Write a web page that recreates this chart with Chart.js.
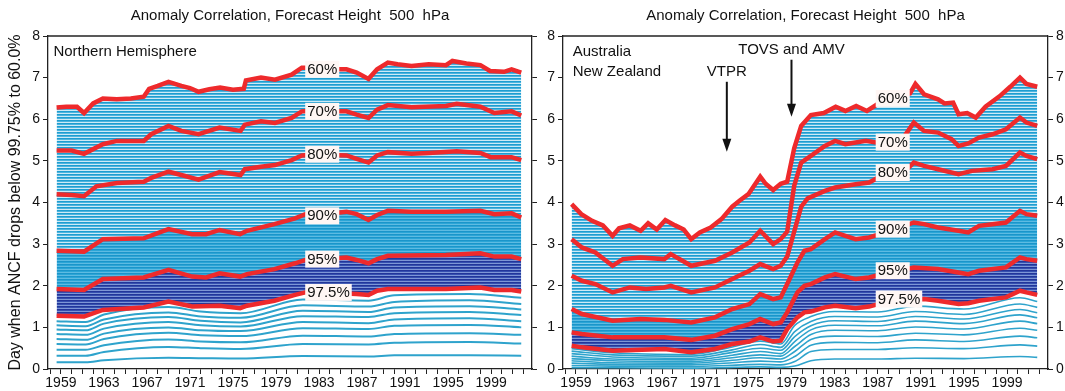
<!DOCTYPE html>
<html>
<head>
<meta charset="utf-8">
<script src="https://cdn.jsdelivr.net/npm/chart.js@4.4.1/dist/chart.umd.min.js"></script>
<style>
  html, body { margin: 0; padding: 0; background: #fff; width: 1065px; height: 391px; overflow: hidden; }
  canvas { position: absolute; top: 0; }
  #left { left: 0; }
  #right { left: 540px; }
</style>
</head>
<body>
<canvas id="left" width="540" height="391"></canvas>
<canvas id="right" width="525" height="391"></canvas>
<script>
const FONT = '"Liberation Sans", Arial, Helvetica, sans-serif';
const RED = '#ee2a2c';
const BLUE = '#2ea3cc';

const yearLabels = [1959, 1963, 1967, 1971, 1975, 1979, 1983, 1987, 1991, 1995, 1999];
const yTickValues = [0, 1, 2, 3, 4, 5, 6, 7, 8];

// Northern Hemisphere - red contours [year, day]
const nh60 = [[1958.6,6.28],[1959.5,6.3],[1960.5,6.3],[1961.15,6.15],[1962.0,6.38],[1962.9,6.5],[1964.2,6.48],[1965.5,6.5],[1966.7,6.54],[1967.2,6.73],[1968.0,6.8],[1969.0,6.9],[1970.2,6.8],[1971.0,6.75],[1971.8,6.66],[1972.8,6.72],[1973.8,6.76],[1975.0,6.71],[1976.0,6.73],[1976.2,6.93],[1977.6,7.0],[1978.9,6.95],[1980.45,7.07],[1981.4,7.24],[1982.0,7.24],[1983.5,7.2],[1985.55,7.2],[1986.5,7.12],[1987.6,6.97],[1988.4,7.2],[1989.4,7.36],[1990.3,7.32],[1991.6,7.28],[1993.2,7.32],[1994.8,7.3],[1995.4,7.4],[1996.7,7.34],[1998.0,7.3],[1998.9,7.16],[2000.2,7.14],[2000.9,7.2],[2001.8,7.12]];
const nh70 = [[1958.6,5.25],[1960.0,5.25],[1961.15,5.17],[1962.9,5.4],[1964.2,5.48],[1966.7,5.48],[1967.4,5.64],[1969.0,5.84],[1970.2,5.72],[1971.8,5.64],[1973.75,5.8],[1975.7,5.72],[1976.1,5.87],[1977.6,5.95],[1978.9,5.91],[1980.45,6.03],[1981.4,6.19],[1982.0,6.2],[1983.5,6.19],[1985.55,6.19],[1986.5,6.11],[1987.6,6.03],[1988.4,6.23],[1989.4,6.34],[1991.6,6.29],[1994.8,6.32],[1995.8,6.37],[1998.0,6.3],[1999.3,6.15],[2000.9,6.19],[2001.8,6.09]];
const nh80 = [[1958.6,4.2],[1960.0,4.18],[1961.15,4.15],[1962.3,4.39],[1964.2,4.47],[1966.7,4.5],[1967.4,4.59],[1969.0,4.74],[1970.2,4.66],[1971.8,4.55],[1973.75,4.73],[1975.7,4.66],[1976.1,4.8],[1977.6,4.86],[1978.9,4.9],[1980.45,5.02],[1981.4,5.13],[1982.0,5.14],[1983.5,5.15],[1985.55,5.13],[1986.5,5.05],[1987.6,4.96],[1988.4,5.13],[1989.4,5.21],[1991.6,5.17],[1993.2,5.19],[1995.8,5.23],[1998.0,5.19],[1998.95,5.09],[2000.9,5.09],[2001.8,5.02]];
const nh90 = [[1958.6,2.84],[1960.0,2.83],[1961.15,2.82],[1962.9,3.12],[1966.7,3.14],[1969.0,3.36],[1971.2,3.24],[1972.5,3.24],[1973.75,3.34],[1975.66,3.24],[1976.3,3.32],[1978.85,3.48],[1980.77,3.62],[1981.73,3.72],[1983.5,3.72],[1985.55,3.78],[1986.5,3.72],[1987.6,3.58],[1988.4,3.7],[1989.4,3.8],[1991.6,3.78],[1994.8,3.78],[1998.0,3.8],[1999.3,3.72],[2000.9,3.74],[2001.8,3.64]];
const nh95 = [[1958.6,1.92],[1961.15,1.9],[1962.9,2.16],[1966.7,2.2],[1969.0,2.38],[1971.2,2.22],[1972.5,2.2],[1973.75,2.3],[1975.66,2.22],[1976.3,2.28],[1978.85,2.4],[1980.77,2.54],[1981.73,2.62],[1983.5,2.64],[1985.55,2.68],[1986.5,2.62],[1987.6,2.54],[1988.4,2.64],[1989.4,2.72],[1994.8,2.74],[1998.0,2.78],[1999.3,2.7],[2000.9,2.7],[2001.8,2.64]];
const nh975 = [[1958.6,1.28],[1961.15,1.26],[1962.9,1.42],[1966.7,1.48],[1969.0,1.62],[1971.2,1.5],[1973.75,1.52],[1975.66,1.46],[1976.3,1.52],[1978.85,1.64],[1980.77,1.78],[1981.73,1.84],[1983.5,1.84],[1986.5,1.8],[1987.6,1.78],[1988.4,1.88],[1989.4,1.92],[1994.8,1.92],[1998.0,1.96],[1999.3,1.9],[2000.9,1.9],[2001.8,1.86]];

// Northern Hemisphere - thin lines below 97.5%
const nhBottomYears = [1958.6, 1961.3, 1963, 1969, 1972, 1975.7, 1981.5, 1987.6, 1990, 1997, 2001.8];
const nh9775 = [1.15, 1.13, 1.31, 1.49, 1.38, 1.34, 1.67, 1.64, 1.77, 1.80, 1.71];
const nh980  = [1.05, 1.03, 1.19, 1.36, 1.26, 1.23, 1.53, 1.50, 1.61, 1.65, 1.56];
const nh9825 = [0.95, 0.93, 1.09, 1.25, 1.16, 1.12, 1.40, 1.37, 1.48, 1.51, 1.43];
const nh985  = [0.84, 0.82, 0.97, 1.13, 1.05, 1.02, 1.27, 1.25, 1.34, 1.37, 1.30];
const nh9875 = [0.72, 0.70, 0.85, 1.00, 0.93, 0.91, 1.13, 1.10, 1.19, 1.22, 1.15];
const nh990  = [0.60, 0.59, 0.72, 0.87, 0.81, 0.79, 0.98, 0.96, 1.04, 1.06, 1.00];
const nh9925 = [0.46, 0.46, 0.57, 0.71, 0.66, 0.64, 0.80, 0.78, 0.84, 0.86, 0.82];
const nh995  = [0.32, 0.32, 0.41, 0.53, 0.50, 0.48, 0.60, 0.59, 0.63, 0.65, 0.61];
const nh9975 = [0.16, 0.16, 0.21, 0.27, 0.26, 0.25, 0.31, 0.30, 0.33, 0.33, 0.32];

// Australia / New Zealand - red contours [year, day]
const anz60 = [[1958.6,3.96],[1959.5,3.72],[1960.5,3.56],[1961.5,3.45],[1962.4,3.2],[1963.0,3.38],[1964.0,3.45],[1965.0,3.32],[1965.7,3.5],[1966.5,3.35],[1967.3,3.58],[1968.2,3.45],[1969.0,3.35],[1969.7,3.12],[1970.5,3.28],[1971.5,3.4],[1972.5,3.6],[1973.5,3.9],[1974.2,4.05],[1975.0,4.2],[1976.1,4.62],[1976.6,4.45],[1977.3,4.3],[1978.0,4.45],[1978.6,4.5],[1979.25,5.3],[1979.9,5.84],[1980.8,6.1],[1982.0,6.15],[1983.1,6.3],[1984.0,6.2],[1985.0,6.32],[1986.0,6.2],[1987.2,6.4],[1988.5,6.5],[1990.0,6.62],[1990.5,6.85],[1991.3,6.6],[1992.6,6.48],[1993.2,6.38],[1994.0,6.4],[1994.5,6.12],[1995.3,6.15],[1996.1,6.04],[1997.0,6.3],[1998.3,6.55],[1999.3,6.78],[2000.2,7.0],[2000.8,6.85],[2001.8,6.78]];
const anz70 = [[1958.6,3.12],[1959.55,2.92],[1960.8,2.8],[1962.4,2.48],[1963.35,2.64],[1964.95,2.68],[1967.2,2.64],[1967.8,2.76],[1969.7,2.48],[1971.9,2.6],[1973.5,2.8],[1975.1,3.04],[1976.1,3.32],[1977.3,3.0],[1978.0,3.12],[1978.6,3.3],[1979.25,4.4],[1979.9,4.96],[1980.8,5.12],[1982.1,5.36],[1983.05,5.48],[1984.0,5.4],[1984.95,5.44],[1985.9,5.48],[1986.85,5.44],[1988.0,5.46],[1989.5,5.6],[1990.35,5.92],[1991.3,5.72],[1992.6,5.68],[1993.85,5.52],[1994.5,5.36],[1995.4,5.42],[1996.4,5.56],[1997.65,5.64],[1998.9,5.76],[2000.2,6.04],[2000.8,5.92],[2001.8,5.84]];
const anz80 = [[1958.6,2.24],[1959.55,2.12],[1960.8,2.04],[1962.4,1.84],[1964.0,1.96],[1965.5,1.92],[1967.2,1.96],[1967.8,2.0],[1969.7,1.84],[1971.9,1.96],[1973.5,2.16],[1975.1,2.36],[1976.1,2.52],[1977.3,2.4],[1978.0,2.48],[1978.6,2.7],[1979.25,3.3],[1979.9,3.9],[1980.5,4.1],[1982.1,4.28],[1983.05,4.36],[1984.95,4.44],[1986.2,4.48],[1987.5,4.66],[1989.5,4.75],[1990.35,4.96],[1991.3,4.88],[1992.6,4.8],[1994.5,4.68],[1995.75,4.76],[1997.65,4.8],[1998.9,4.88],[2000.2,5.2],[2000.8,5.12],[2001.8,5.04]];
const anz90 = [[1958.6,1.44],[1959.55,1.32],[1962.4,1.16],[1965.0,1.2],[1967.2,1.18],[1969.7,1.12],[1971.9,1.24],[1973.5,1.44],[1975.1,1.56],[1976.1,1.8],[1977.3,1.68],[1978.0,1.72],[1978.6,2.04],[1979.55,2.56],[1980.2,2.84],[1980.8,2.88],[1982.1,3.12],[1983.05,3.28],[1984.0,3.2],[1984.95,3.12],[1986.2,3.16],[1988.0,3.3],[1990.35,3.52],[1991.3,3.48],[1992.6,3.4],[1994.5,3.32],[1995.4,3.28],[1996.4,3.44],[1997.65,3.48],[1998.9,3.52],[2000.2,3.8],[2000.8,3.72],[2001.8,3.68]];
const anz95 = [[1958.6,0.88],[1959.55,0.84],[1962.4,0.76],[1967.2,0.76],[1969.7,0.7],[1971.9,0.8],[1973.5,0.96],[1975.1,1.08],[1976.1,1.2],[1977.3,1.08],[1978.0,1.12],[1978.6,1.36],[1979.55,1.84],[1980.2,2.0],[1980.8,2.04],[1982.1,2.2],[1983.05,2.28],[1984.95,2.16],[1986.2,2.2],[1988.0,2.32],[1990.35,2.44],[1992.6,2.4],[1994.5,2.32],[1995.4,2.28],[1996.4,2.36],[1998.9,2.44],[2000.2,2.68],[2000.8,2.64],[2001.8,2.6]];
const anz975 = [[1958.6,0.56],[1959.55,0.52],[1962.4,0.44],[1967.2,0.48],[1969.7,0.4],[1971.9,0.48],[1973.5,0.6],[1975.1,0.66],[1976.1,0.76],[1977.3,0.66],[1978.0,0.68],[1978.6,0.96],[1979.55,1.24],[1980.2,1.36],[1980.8,1.38],[1982.1,1.48],[1983.05,1.52],[1984.95,1.46],[1986.2,1.5],[1988.5,1.66],[1991.3,1.68],[1992.6,1.64],[1994.5,1.56],[1995.4,1.58],[1996.4,1.64],[1998.9,1.72],[2000.2,1.88],[2000.8,1.84],[2001.8,1.78]];

// Australia / New Zealand - thin lines below 97.5%
const anzBottomYears = [1958.6, 1962.4, 1969.7, 1973.5, 1976.1, 1978.0, 1979.3, 1980.8, 1983, 1987, 1990.5, 1995, 2000.2, 2001.8];
const anz9775 = [0.49, 0.39, 0.35, 0.53, 0.67, 0.60, 1.05, 1.26, 1.38, 1.37, 1.51, 1.44, 1.71, 1.62];
const anz980  = [0.43, 0.34, 0.31, 0.46, 0.59, 0.52, 0.90, 1.14, 1.26, 1.25, 1.38, 1.31, 1.56, 1.48];
const anz9825 = [0.37, 0.29, 0.26, 0.40, 0.50, 0.45, 0.78, 1.04, 1.16, 1.14, 1.26, 1.20, 1.43, 1.35];
const anz985  = [0.31, 0.24, 0.22, 0.33, 0.42, 0.37, 0.66, 0.94, 1.05, 1.04, 1.15, 1.09, 1.30, 1.23];
const anz9875 = [0.25, 0.20, 0.18, 0.27, 0.34, 0.31, 0.54, 0.83, 0.93, 0.92, 1.01, 0.96, 1.15, 1.09];
const anz990  = [0.20, 0.15, 0.14, 0.21, 0.27, 0.24, 0.42, 0.71, 0.79, 0.78, 0.86, 0.82, 0.98, 0.93];
const anz9925 = [0.14, 0.11, 0.10, 0.15, 0.19, 0.17, 0.30, 0.57, 0.64, 0.63, 0.70, 0.66, 0.79, 0.75];
const anz995  = [0.08, 0.07, 0.06, 0.09, 0.11, 0.10, 0.18, 0.42, 0.47, 0.47, 0.51, 0.49, 0.58, 0.55];
const anz9975 = [0.03, 0.03, 0.02, 0.04, 0.05, 0.04, 0.07, 0.20, 0.24, 0.24, 0.26, 0.25, 0.30, 0.28];

// contour labels [text, left edge year, day]
const nhLabels = [['60%', 1981.9, 7.2], ['70%', 1981.9, 6.19], ['80%', 1981.9, 5.16], ['90%', 1981.9, 3.68], ['95%', 1981.9, 2.64], ['97.5%', 1981.9, 1.84]];
const anzLabels = [['60%', 1987.0, 6.5], ['70%', 1987.0, 5.45], ['80%', 1987.0, 4.72], ['90%', 1987.0, 3.36], ['95%', 1987.0, 2.36], ['97.5%', 1987.0, 1.68]];

const TITLE = 'Anomaly Correlation, Forecast Height  500  hPa';
const Y_TITLE = 'Day when ANCF drops below 99.75% to 60.0%';

// striped fills standing in for the dense 0.25% contour lines
function stripes(rows) {
  const c = document.createElement('canvas');
  c.width = 1; c.height = rows.length;
  const g = c.getContext('2d');
  rows.forEach((col, i) => { g.fillStyle = col; g.fillRect(0, i, 1, 1); });
  return g.createPattern(c, 'repeat');
}
const cyanFill = stripes(['#1e9dd0', '#4cb4de', '#cdeaf6']);
const denseFill = stripes(['#1a95ca', '#2ba5d6', '#5dbbe2']);
const navyFill = stripes(['#22369a', '#3550b0', '#7d96d6']);

const pts = arr => arr.map(p => ({ x: p[0], y: p[1] }));
const ptsY = (xs, ys) => ys.map((v, i) => ({ x: xs[i], y: v }));

function redLine(data, fillStyle) {
  return {
    data: pts(data), borderColor: RED, borderWidth: 4.5, pointRadius: 0, tension: 0,
    fill: fillStyle ? '+1' : false, backgroundColor: fillStyle || 'transparent'
  };
}
function thinLine(xs, ys, w) {
  return {
    data: ptsY(xs, ys), borderColor: BLUE, borderWidth: w, pointRadius: 0,
    cubicInterpolationMode: 'monotone', fill: false
  };
}

const allYears = [];
for (let y = 1958; y <= 2002; y++) allYears.push(y);

function scales(leftW, rightW, leftLabels, rightLabels, yTitle) {
  const grid = { drawOnChartArea: false, drawTicks: true, tickLength: 5, color: '#222', lineWidth: 1 };
  const border = { display: true, color: '#222', width: 1.3 };
  const tickFont = { size: 14, family: FONT };
  const yAxis = (pos, w, show) => ({
    type: 'linear', position: pos, min: 0, max: 8,
    grid: grid, border: border,
    afterBuildTicks: ax => { ax.ticks = yTickValues.map(v => ({ value: v })); },
    ticks: { color: show ? '#111' : 'rgba(0,0,0,0)', font: tickFont, padding: 3 },
    afterFit: s => { s.width = w; }
  });
  const y = yAxis('left', leftW, leftLabels);
  if (yTitle) {
    y.title = { display: true, text: yTitle, color: '#111', font: { size: 16, family: FONT }, padding: { top: 6, bottom: 0 } };
  }
  return {
    x: {
      type: 'linear', min: 1957.8, max: 2002.8,
      grid: grid, border: border,
      afterBuildTicks: ax => { ax.ticks = allYears.map(v => ({ value: v })); },
      ticks: { autoSkip: false, maxRotation: 0, padding: 1, color: '#111', font: tickFont,
        callback: v => yearLabels.includes(v) ? String(v) : '' },
      afterFit: s => { s.height = 22; }
    },
    y: y,
    y2: yAxis('right', rightW, rightLabels)
  };
}

function decor(labels, texts, arrows) {
  return {
    id: 'decor',
    afterDatasetsDraw(chart) {
      const { ctx, chartArea: a } = chart;
      const xs = chart.scales.x, ys = chart.scales.y;
      ctx.save();
      // top frame line
      ctx.strokeStyle = '#222'; ctx.lineWidth = 1.3;
      ctx.beginPath(); ctx.moveTo(a.left, a.top); ctx.lineTo(a.right, a.top); ctx.stroke();
      // title
      ctx.fillStyle = '#111'; ctx.font = '15px ' + FONT;
      ctx.textAlign = 'center'; ctx.textBaseline = 'middle';
      ctx.fillText(TITLE, (a.left + a.right) / 2, 16);
      // contour labels
      ctx.textAlign = 'left';
      labels.forEach(([t, x, v]) => {
        const px = xs.getPixelForValue(x), py = ys.getPixelForValue(v);
        const w = ctx.measureText(t).width;
        ctx.fillStyle = '#fff6f4';
        ctx.fillRect(px - 2, py - 8.5, w + 4, 17);
        ctx.fillStyle = '#111';
        ctx.fillText(t, px, py + 0.5);
      });
      // panel texts
      texts.forEach(([t, x, v, align]) => {
        ctx.textAlign = align;
        ctx.fillText(t, xs.getPixelForValue(x), ys.getPixelForValue(v));
      });
      // arrows
      ctx.strokeStyle = '#111'; ctx.fillStyle = '#111'; ctx.lineWidth = 2;
      arrows.forEach(([x, v0, v1]) => {
        const px = xs.getPixelForValue(x), p0 = ys.getPixelForValue(v0), p1 = ys.getPixelForValue(v1);
        ctx.beginPath(); ctx.moveTo(px, p0); ctx.lineTo(px, p1 - 10); ctx.stroke();
        ctx.beginPath(); ctx.moveTo(px - 4.5, p1 - 13); ctx.lineTo(px + 4.5, p1 - 13); ctx.lineTo(px, p1); ctx.closePath(); ctx.fill();
      });
      ctx.restore();
    }
  };
}

function panel(id, datasets, sc, plugin) {
  return new Chart(document.getElementById(id), {
    type: 'line',
    data: { datasets: datasets },
    options: {
      responsive: false, animation: false, devicePixelRatio: 1,
      layout: { padding: { top: 36, left: 0, right: 0, bottom: 0 } },
      plugins: { legend: { display: false }, tooltip: { enabled: false }, filler: { drawTime: 'beforeDatasetsDraw' } },
      scales: sc
    },
    plugins: [plugin]
  });
}

panel('left', [
  redLine(nh60, cyanFill), redLine(nh70, cyanFill), redLine(nh80, cyanFill),
  redLine(nh90, denseFill), redLine(nh95, navyFill), redLine(nh975, null),
  thinLine(nhBottomYears, nh9775, 2), thinLine(nhBottomYears, nh980, 2), thinLine(nhBottomYears, nh9825, 2),
  thinLine(nhBottomYears, nh985, 2), thinLine(nhBottomYears, nh9875, 2), thinLine(nhBottomYears, nh990, 2),
  thinLine(nhBottomYears, nh9925, 2), thinLine(nhBottomYears, nh995, 2), thinLine(nhBottomYears, nh9975, 2)
], scales(48, 8, true, false, Y_TITLE),
  decor(nhLabels, [['Northern Hemisphere', 1958.3, 7.62, 'left']], []));

panel('right', [
  redLine(anz60, cyanFill), redLine(anz70, cyanFill), redLine(anz80, cyanFill),
  redLine(anz90, denseFill), redLine(anz95, navyFill), redLine(anz975, null),
  thinLine(anzBottomYears, anz9775, 1.6), thinLine(anzBottomYears, anz980, 1.6), thinLine(anzBottomYears, anz9825, 1.6),
  thinLine(anzBottomYears, anz985, 1.6), thinLine(anzBottomYears, anz9875, 1.6), thinLine(anzBottomYears, anz990, 1.6),
  thinLine(anzBottomYears, anz9925, 1.6), thinLine(anzBottomYears, anz995, 1.6), thinLine(anzBottomYears, anz9975, 1.6)
], scales(23, 17, true, true, null),
  decor(anzLabels,
    [['Australia', 1958.7, 7.62, 'left'], ['New Zealand', 1958.7, 7.14, 'left'],
     ['TOVS and AMV', 1979.0, 7.67, 'center'], ['VTPR', 1973.0, 7.14, 'center']],
    [[1973.0, 6.9, 5.22], [1979.0, 7.43, 6.06]]));
</script>
</body>
</html>
